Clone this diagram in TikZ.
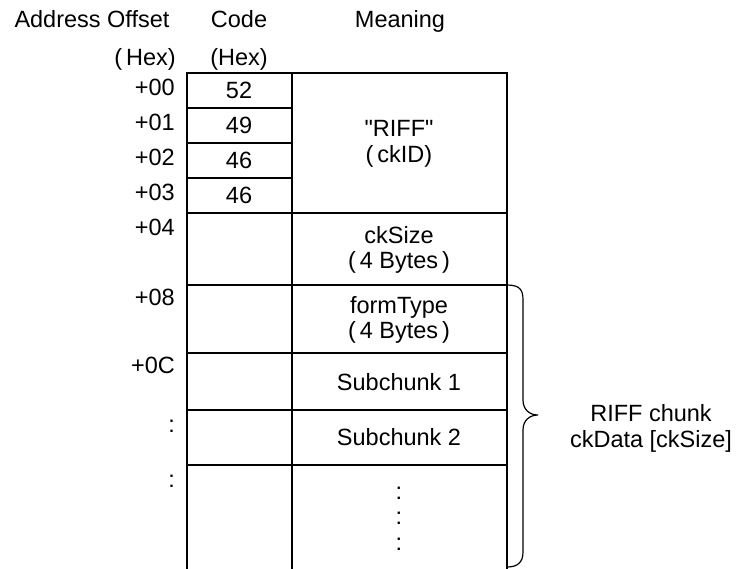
\documentclass[tikz,border=0pt]{standalone}
\usepackage{fontspec}
\setmainfont{Liberation Sans}
\newfontfamily\plainsans{Liberation Sans}
\begin{document}
\begin{tikzpicture}[x=1pt,y=-1pt,
  txt/.style={font=\fontsize{23.5}{28}\selectfont, inner sep=0pt, anchor=base},
  rtxt/.style={txt, anchor=base east},
  grid/.style={line width=1.8pt, line cap=rect},
  bracepath/.style={line width=1.2pt}]
\useasboundingbox (0,0) rectangle (746,568);
% headers
\node[txt] (hAddr) at (92,27) {Address Offset};
\node[txt] (hCode) at (239,27) {Code};
\node[txt] (hMean) at (400,27) {Meaning};
\node[txt] (hHex1) at (145,65) {(\,Hex)};
\node[txt] (hHex2) at (239,65) {(Hex)};
% table grid
\draw[grid] (186.7,568) -- (186.7,72.7) -- (506.7,72.7) -- (506.7,568);
\draw[grid] (291.7,72.7) -- (291.7,568);
\foreach \yy in {107.7,142.7,177.7}{\draw[grid] (186.7,\yy) -- (291.7,\yy);}
\foreach \yy in {212.7,285,353.3,410,465}{\draw[grid] (186.7,\yy) -- (506.7,\yy);}
% row labels
\node[rtxt] (a00) at (175,95) {+00};
\node[rtxt] (a01) at (175,130) {+01};
\node[rtxt] (a02) at (175,165) {+02};
\node[rtxt] (a03) at (175,200) {+03};
\node[rtxt] (a04) at (175,235) {+04};
\node[rtxt] (a08) at (175,305) {+08};
\node[rtxt] (a0C) at (175,373) {+0C};
\node[rtxt] (ad1) at (175,432) {:};
\node[rtxt] (ad2) at (175,487) {:};
% codes
\node[txt] (c0) at (239,98) {52};
\node[txt] (c1) at (239,133) {49};
\node[txt] (c2) at (239,168) {46};
\node[txt] (c3) at (239,203) {46};
% meanings
\node[txt] (m1a) at (399,136) {\plainsans "RIFF"};
\node[txt] (m1b) at (399,162) {(\,ckID)};
\node[txt] (m2a) at (399,243) {ckSize};
\node[txt] (m2b) at (399,268) {(\,4 Bytes\,)};
\node[txt] (m3a) at (399,313) {formType};
\node[txt] (m3b) at (399,338) {(\,4 Bytes\,)};
\node[txt] (m4) at (399,390) {Subchunk 1};
\node[txt] (m5) at (399,445) {Subchunk 2};
\node[txt] (v1) at (399,499) {:};
\node[txt] (v2) at (399,524) {:};
\node[txt] (v3) at (399,550) {:};
% brace
\draw[bracepath] (507,285) .. controls (520,285) and (523,290) .. (523,300) -- (523,400)
  .. controls (523,410) and (530,415) .. (538,415)
  .. controls (530,415) and (523,420) .. (523,430) -- (523,552)
  .. controls (523,562) and (518,567) .. (507,567);
\node[txt] (r1) at (651,421) {RIFF chunk};
\node[txt] (r2) at (651,447) {ckData [ckSize]};
\end{tikzpicture}
\end{document}
